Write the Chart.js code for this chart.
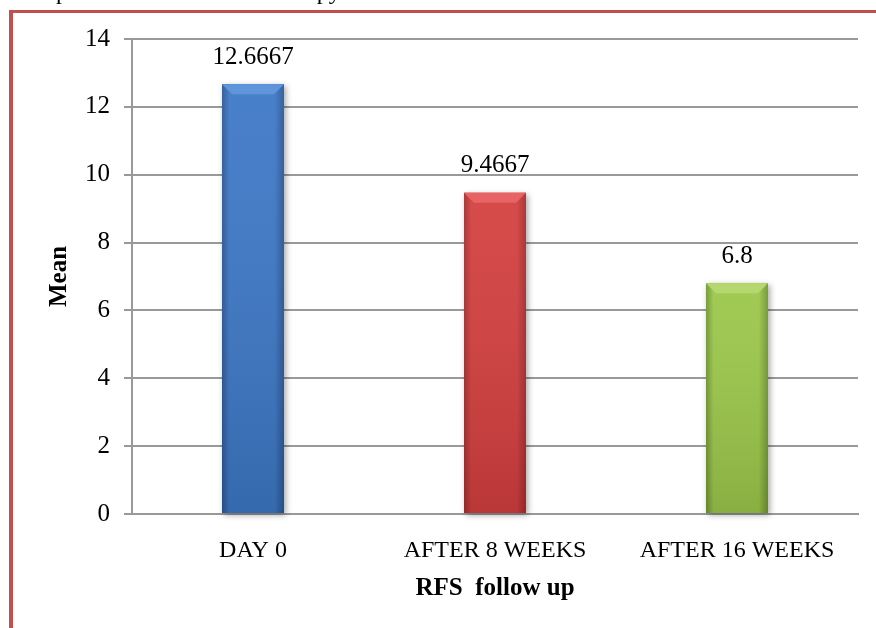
<!DOCTYPE html>
<html>
<head>
<meta charset="utf-8">
<script src="https://cdn.jsdelivr.net/npm/chart.js@4.4.1/dist/chart.umd.min.js"></script>
<style>
  html, body { margin: 0; padding: 0; background: #fff; overflow: hidden; }
  #wrap { position: relative; width: 876px; height: 628px; }
  #caption {
    position: absolute; left: 20px; top: -22px; white-space: nowrap;
    font: 24px "Liberation Serif", "Times New Roman", serif; color: #000;
  }
  .frameTop { position: absolute; left: 9px; top: 10px; right: 0; height: 3px; background: #c0504d; }
  .frameLeft { position: absolute; left: 9px; top: 10px; bottom: 0; width: 4px; background: #c0504d; }
  canvas { position: absolute; left: 0; top: 0; }
</style>
</head>
<body>
<div id="wrap">
  <canvas id="graficoRFS" width="876" height="628"></canvas>
  <div id="caption">Graph 1: Mean RFS with therapy</div>
  <div class="frameTop"></div>
  <div class="frameLeft"></div>
</div>
<script>
// Datos: promedio RFS en cada control
const categorias = ['DAY 0', 'AFTER 8 WEEKS', 'AFTER 16 WEEKS'];
const medias = [12.6667, 9.4667, 6.8];
const coloresBase = ['#3d78c6', '#d43f3f', '#9bc74a'];
const coloresOscuros = ['#2a5796', '#a52d2d', '#6f9630'];
const coloresClaros = ['#5f95da', '#e86464', '#b4d86e'];

const fuente = '"Liberation Serif", "Times New Roman", serif';

// Relieve de las barras: bordes oscuros y bisel claro arriba
const biselBarras = {
  id: 'biselBarras',
  beforeDatasetsDraw(chart) {
    const ctx = chart.ctx;
    chart.getDatasetMeta(0).data.forEach((bar, i) => {
      const x0 = bar.x - bar.width / 2;
      ctx.save();
      ctx.shadowColor = 'rgba(0,0,0,0.35)';
      ctx.shadowBlur = 6;
      ctx.shadowOffsetX = 2;
      ctx.shadowOffsetY = 2;
      ctx.fillStyle = coloresBase[i];
      ctx.fillRect(x0, bar.y, bar.width, bar.base - bar.y);
      ctx.restore();
    });
  },
  afterDatasetsDraw(chart) {
    const ctx = chart.ctx;
    chart.getDatasetMeta(0).data.forEach((bar, i) => {
      const x0 = bar.x - bar.width / 2, x1 = bar.x + bar.width / 2;
      const top = bar.y, base = bar.base, b = 10;
      ctx.save();
      // sombreado lateral
      const g = ctx.createLinearGradient(x0, 0, x1, 0);
      g.addColorStop(0, coloresOscuros[i]);
      g.addColorStop(0.12, coloresBase[i]);
      g.addColorStop(0.85, coloresBase[i]);
      g.addColorStop(1, coloresOscuros[i]);
      ctx.fillStyle = g;
      ctx.fillRect(x0, top, bar.width, base - top);
      // oscurece hacia la base
      const gv = ctx.createLinearGradient(0, top, 0, base);
      gv.addColorStop(0, 'rgba(255,255,255,0.06)');
      gv.addColorStop(1, 'rgba(0,0,0,0.12)');
      ctx.fillStyle = gv;
      ctx.fillRect(x0, top, bar.width, base - top);
      // bisel superior
      ctx.beginPath();
      ctx.moveTo(x0, top);
      ctx.lineTo(x1, top);
      ctx.lineTo(x1 - b, top + b);
      ctx.lineTo(x0 + b, top + b);
      ctx.closePath();
      ctx.fillStyle = coloresClaros[i];
      ctx.fill();
      ctx.restore();
    });
  }
};

// Valor encima de cada barra
const etiquetasValor = {
  id: 'etiquetasValor',
  afterDatasetsDraw(chart) {
    const ctx = chart.ctx;
    const ds = chart.data.datasets[0];
    ctx.save();
    ctx.font = '25px ' + fuente;
    ctx.fillStyle = '#000';
    ctx.textAlign = 'center';
    ctx.textBaseline = 'middle';
    chart.getDatasetMeta(0).data.forEach((bar, i) => {
      ctx.fillText(String(ds.data[i]), bar.x, bar.y - 27);
    });
    ctx.restore();
  }
};

const ctx = document.getElementById('graficoRFS').getContext('2d');
new Chart(ctx, {
  type: 'bar',
  data: {
    labels: categorias,
    datasets: [{
      label: 'Mean',
      data: medias,
      backgroundColor: 'rgba(0,0,0,0)',
      borderWidth: 0,
      barPercentage: 0.256,
      categoryPercentage: 1
    }]
  },
  options: {
    responsive: false,
    animation: false,
    layout: { padding: { top: 39, right: 18, left: 0, bottom: 0 } },
    plugins: {
      legend: { display: false },
      tooltip: { enabled: false }
    },
    scales: {
      x: {
        afterFit: (s) => { s.height = 114; },
        grid: { display: false, drawTicks: false },
        border: { display: true, color: '#999', width: 2 },
        ticks: { color: '#000', font: { family: fuente, size: 24 }, padding: 22, maxRotation: 0 },
        title: {
          display: true, text: 'RFS  follow up', color: '#000',
          font: { family: fuente, size: 25, weight: 'bold' },
          padding: { top: 6, bottom: 24 }
        }
      },
      y: {
        min: 0, max: 14,
        afterFit: (s) => { s.width = 132; },
        grid: { color: '#999', lineWidth: 2, tickLength: 8 },
        border: { display: true, color: '#999', width: 2 },
        ticks: { stepSize: 2, color: '#000', font: { family: fuente, size: 25 }, padding: 14 },
        title: {
          display: true, text: 'Mean', color: '#000',
          font: { family: fuente, size: 25, weight: 'bold' },
          padding: { top: 45, bottom: 0 }
        }
      }
    }
  },
  plugins: [biselBarras, etiquetasValor]
});
</script>
</body>
</html>
